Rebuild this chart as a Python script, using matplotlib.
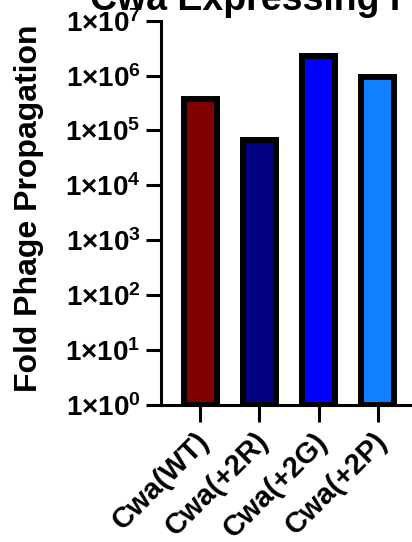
import matplotlib
matplotlib.use("Agg")
import matplotlib.pyplot as plt
from matplotlib.ticker import FixedLocator, NullLocator
from matplotlib.transforms import ScaledTranslation

categories = ["Cwa(WT)", "Cwa(+2R)", "Cwa(+2G)", "Cwa(+2P)"]
values = [3.8e5, 6.6e4, 2.25e6, 9.5e5]
bar_colors = ["#800000", "#000080", "#0000FF", "#0F80FF"]
y_exponents = [0, 1, 2, 3, 4, 5, 6, 7]
title_text = "Cwa Expressing Phage"
ylabel_text = "Fold Phage Propagation"

plt.rcParams['font.family'] = ['Liberation Sans', 'DejaVu Sans']
plt.rcParams['font.weight'] = 'bold'
plt.rcParams['mathtext.default'] = 'regular'

fig = plt.figure(figsize=(4.12, 5.42), dpi=100)
ax = fig.add_axes([0.391, 0.2528, 0.621, 0.709])

x = list(range(len(categories)))
ax.bar(x, values, width=0.56, bottom=1, color=bar_colors, edgecolor='black',
       linewidth=4.3, zorder=2)

ax.set_yscale('log')
ax.set_ylim(1, 1e7)
ax.set_xlim(-0.66, 3.66)

ax.yaxis.set_major_locator(FixedLocator([10.0 ** e for e in y_exponents]))
ax.yaxis.set_minor_locator(NullLocator())
ax.set_yticklabels(['1×10$^{%d}$' % e for e in y_exponents], fontsize=20,
                   fontweight='bold')
ax.set_xticks(x)
ax.set_xticklabels(categories, rotation=45, ha='right', rotation_mode='anchor',
                   fontsize=21, fontweight='bold')

for s in ['top', 'right']:
    ax.spines[s].set_visible(False)
for s in ['left', 'bottom']:
    ax.spines[s].set_linewidth(2.2)
    ax.spines[s].set_zorder(3)

ax.tick_params(axis='y', which='major', length=10.8, width=2.2, pad=4)
ax.tick_params(axis='x', which='major', length=12, width=2.2, pad=4)

offset = ScaledTranslation(-0.05, 0.0, fig.dpi_scale_trans)
for lbl in ax.get_xticklabels():
    lbl.set_transform(lbl.get_transform() + offset)

ax.set_ylabel(ylabel_text, fontsize=23, fontweight='bold')
ax.yaxis.set_label_coords(-0.457, 0.511)

fig.text(90 / 412, 1 - 10 / 542, title_text, fontsize=27, fontweight='bold',
         ha='left', va='baseline')

fig.savefig('out.png', dpi=100)
